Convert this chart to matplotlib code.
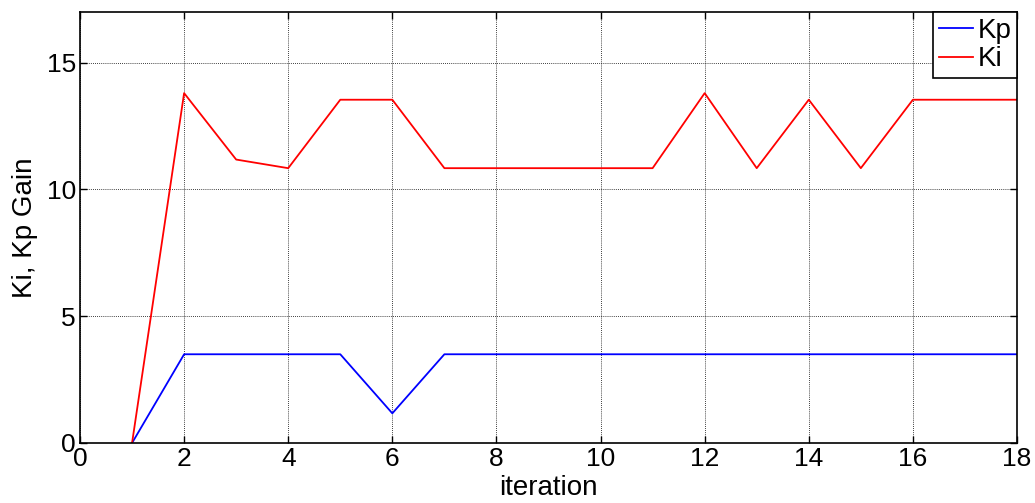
import matplotlib
matplotlib.use("Agg")
import matplotlib.pyplot as plt

plt.rcParams['font.family'] = ['Liberation Sans', 'DejaVu Sans']

iteration = [1, 2, 3, 4, 5, 6, 7, 8, 9, 10, 11, 12, 13, 14, 15, 16, 17, 18]
kp = [0, 3.5, 3.5, 3.5, 3.5, 1.17, 3.5, 3.5, 3.5, 3.5, 3.5, 3.5, 3.5, 3.5, 3.5, 3.5, 3.5, 3.5]
ki = [0, 13.8, 11.18, 10.84, 13.54, 13.54, 10.84, 10.84, 10.84, 10.84, 10.84, 13.8, 10.84, 13.54, 10.84, 13.54, 13.54, 13.54]
xticks = [0, 2, 4, 6, 8, 10, 12, 14, 16, 18]
yticks = [0, 5, 10, 15]

fig = plt.figure(figsize=(10.35, 5.03), dpi=100)
ax = fig.add_axes([80/1035, 1 - 443/503, 937/1035, 431/503])
ax.plot(iteration, kp, color='#0000ff', lw=1.3, label='Kp')
ax.plot(iteration, ki, color='#ff0000', lw=1.3, label='Ki')
ax.set_xlim(0, 18)
ax.set_ylim(0, 17)
ax.set_xticks(xticks)
ax.set_yticks(yticks)
ax.tick_params(direction='in', labelsize=19, top=True, right=True, length=5, width=1, pad=3)
ax.grid(True, color='black', linestyle=(0, (1, 1.5)), linewidth=0.6)
for s in ax.spines.values():
    s.set_linewidth(1.2)
ax.set_xlabel('iteration', fontsize=20, labelpad=3)
ax.set_ylabel('Ki, Kp Gain', fontsize=20, labelpad=6)
leg = ax.legend(loc='upper right', fontsize=20, fancybox=False, framealpha=1,
                edgecolor='black', borderaxespad=0, handlelength=1.25,
                handletextpad=0.15, borderpad=0.2, labelspacing=0.1)
leg.get_frame().set_linewidth(1.2)
fig.savefig('out.png', dpi=100)
